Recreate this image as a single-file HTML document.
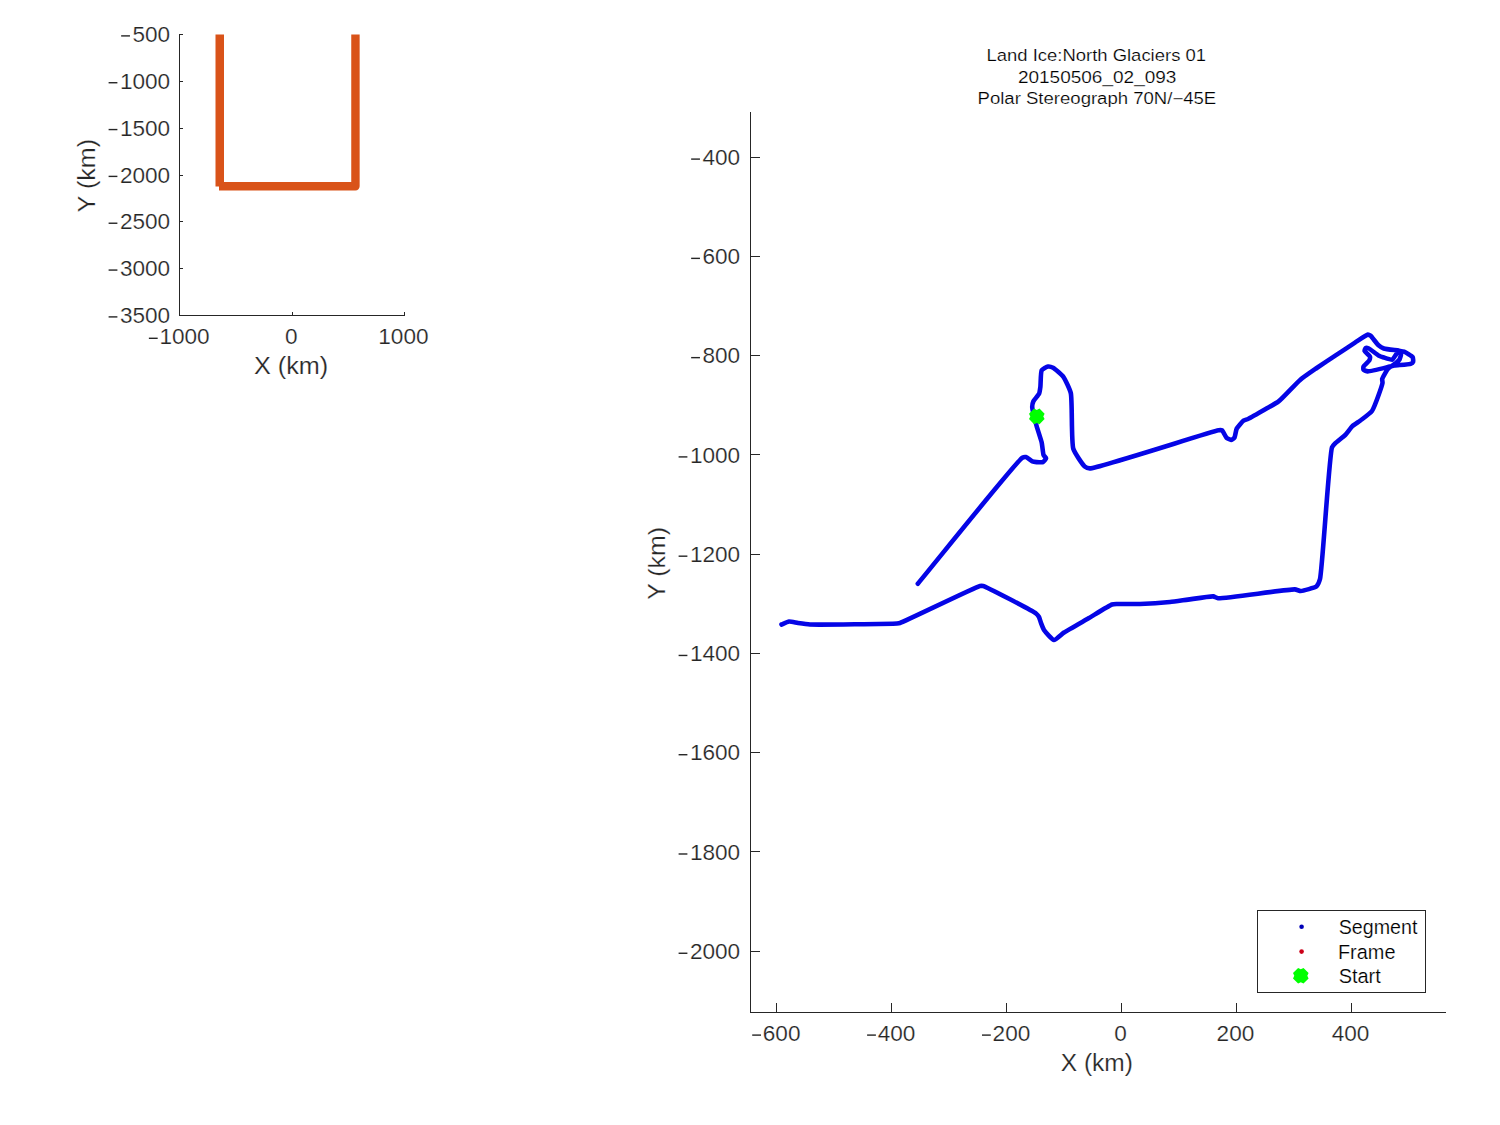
<!DOCTYPE html>
<html><head><meta charset="utf-8"><style>
html,body{margin:0;padding:0;background:#fff;width:1500px;height:1125px;overflow:hidden}
svg{position:absolute;left:0;top:0}
text{font-family:"Liberation Sans", sans-serif;stroke:#fff;stroke-width:0.2px}
</style></head><body>
<svg width="1500" height="1125" viewBox="0 0 1500 1125">
<rect x="179" y="34" width="1" height="282" fill="#262626"/>
<rect x="179" y="315" width="226" height="1" fill="#262626"/>
<rect x="180" y="34" width="3" height="1" fill="#262626"/>
<rect x="180" y="81" width="3" height="1" fill="#262626"/>
<rect x="180" y="128" width="3" height="1" fill="#262626"/>
<rect x="180" y="175" width="3" height="1" fill="#262626"/>
<rect x="180" y="221" width="3" height="1" fill="#262626"/>
<rect x="180" y="268" width="3" height="1" fill="#262626"/>
<rect x="180" y="315" width="3" height="1" fill="#262626"/>
<rect x="179" y="312" width="1" height="3" fill="#262626"/>
<rect x="292" y="312" width="1" height="3" fill="#262626"/>
<rect x="404" y="312" width="1" height="3" fill="#262626"/>
<path d="M219.75,34.5 V186.5" stroke="#D95319" stroke-width="8.5" fill="none"/>
<path d="M219,186.3 H355.45 V34.5" stroke="#D95319" stroke-width="8.4" fill="none" stroke-linejoin="round"/>
<rect x="750" y="112" width="1" height="901" fill="#262626"/>
<rect x="750" y="1012" width="696" height="1" fill="#262626"/>
<rect x="751" y="157" width="9" height="1" fill="#262626"/>
<rect x="751" y="256" width="9" height="1" fill="#262626"/>
<rect x="751" y="355" width="9" height="1" fill="#262626"/>
<rect x="751" y="454" width="9" height="1" fill="#262626"/>
<rect x="751" y="554" width="9" height="1" fill="#262626"/>
<rect x="751" y="653" width="9" height="1" fill="#262626"/>
<rect x="751" y="752" width="9" height="1" fill="#262626"/>
<rect x="751" y="851" width="9" height="1" fill="#262626"/>
<rect x="751" y="951" width="9" height="1" fill="#262626"/>
<rect x="776" y="1003" width="1" height="9" fill="#262626"/>
<rect x="891" y="1003" width="1" height="9" fill="#262626"/>
<rect x="1006" y="1003" width="1" height="9" fill="#262626"/>
<rect x="1121" y="1003" width="1" height="9" fill="#262626"/>
<rect x="1236" y="1003" width="1" height="9" fill="#262626"/>
<rect x="1351" y="1003" width="1" height="9" fill="#262626"/>
<path d="M917.80,583.70 C935.22,562.72 1016.55,461.21 1022.30,457.80 C1023.16,457.29 1025.24,456.97 1025.90,457.10 C1026.85,457.29 1031.30,460.90 1032.30,461.30 C1033.06,461.60 1035.81,462.03 1036.60,462.10 C1037.55,462.19 1042.09,462.48 1042.90,462.10 C1043.62,461.76 1046.09,458.91 1046.10,458.30 C1046.11,457.75 1043.93,455.87 1043.60,455.10 C1043.01,453.74 1042.21,444.72 1041.70,442.50 C1041.11,439.91 1037.37,428.86 1036.60,426.00 C1035.78,422.96 1032.22,409.24 1032.20,407.00 C1032.19,405.77 1032.96,402.27 1033.40,401.30 C1033.96,400.06 1038.53,395.01 1039.10,393.70 C1039.60,392.57 1040.21,388.12 1040.40,386.70 C1040.68,384.55 1040.67,371.96 1041.70,370.30 C1042.39,369.19 1046.97,366.66 1048.00,366.50 C1048.87,366.36 1052.17,367.22 1053.10,367.70 C1054.59,368.47 1061.79,374.71 1063.20,376.60 C1064.84,378.80 1069.91,389.42 1070.80,393.10 C1072.36,399.54 1071.23,442.29 1073.30,448.80 C1074.57,452.80 1082.95,465.09 1084.70,466.50 C1085.59,467.22 1088.37,468.35 1089.80,468.40 C1096.91,468.64 1212.41,431.18 1218.50,430.30 C1219.48,430.16 1221.46,430.00 1222.00,430.30 C1222.85,430.78 1225.62,436.89 1226.50,437.70 C1227.17,438.31 1230.31,439.94 1231.00,439.90 C1231.62,439.86 1233.96,438.32 1234.40,437.70 C1235.07,436.76 1235.98,429.99 1236.70,428.60 C1237.46,427.14 1242.38,421.48 1243.50,420.70 C1244.26,420.17 1247.02,419.46 1248.00,419.00 C1250.03,418.05 1263.37,410.38 1266.10,408.80 C1268.38,407.48 1276.36,403.14 1278.60,401.40 C1281.85,398.88 1296.67,382.81 1300.10,379.90 C1302.85,377.57 1313.17,370.46 1316.00,368.50 C1319.17,366.31 1333.08,357.11 1336.40,354.90 C1339.57,352.80 1352.18,344.41 1355.00,342.60 C1357.32,341.11 1366.44,334.72 1367.80,334.60 C1368.40,334.55 1369.99,335.32 1370.50,335.70 C1371.56,336.48 1377.21,344.19 1378.50,345.30 C1379.41,346.08 1382.64,348.09 1383.80,348.50 C1385.61,349.14 1396.84,350.28 1398.70,350.60 C1399.83,350.79 1403.14,351.32 1404.10,351.70 C1405.40,352.22 1411.95,355.96 1412.60,357.00 C1413.05,357.72 1413.35,361.21 1413.10,361.80 C1412.89,362.29 1411.18,363.62 1410.50,363.90 C1409.01,364.51 1396.38,365.19 1394.50,365.50 C1393.46,365.67 1390.79,366.36 1389.70,366.60 C1387.37,367.12 1370.03,371.56 1367.80,371.40 C1366.79,371.33 1363.83,370.27 1363.50,369.80 C1363.23,369.41 1363.27,367.18 1363.50,366.60 C1363.87,365.65 1368.93,361.19 1369.40,360.20 C1369.71,359.55 1370.11,357.12 1369.90,356.50 C1369.61,355.61 1364.79,351.94 1364.60,351.10 C1364.47,350.54 1365.33,348.11 1365.70,347.90 C1366.06,347.69 1368.26,348.23 1368.90,348.50 C1370.12,349.02 1377.09,354.63 1378.50,355.40 C1379.48,355.93 1382.80,357.17 1383.80,357.50 C1385.04,357.90 1391.34,360.04 1392.30,359.70 C1392.99,359.45 1394.54,356.63 1395.00,356.00 C1395.48,355.34 1397.45,352.09 1398.00,352.00 C1398.47,351.92 1400.81,353.49 1401.00,354.00 C1401.24,354.64 1399.94,358.73 1399.50,359.50 C1399.09,360.21 1396.73,362.38 1396.00,363.00 C1394.97,363.87 1389.22,367.47 1388.10,368.70 C1386.87,370.06 1382.51,377.54 1382.20,378.90 C1382.02,379.70 1382.64,382.03 1382.50,383.00 C1382.13,385.61 1374.32,407.76 1372.00,411.00 C1370.35,413.30 1362.18,419.14 1360.40,420.50 C1358.96,421.60 1353.61,425.06 1352.40,426.20 C1351.13,427.39 1346.92,433.26 1345.60,434.60 C1344.14,436.08 1336.71,441.78 1335.50,443.00 C1334.72,443.79 1332.55,445.94 1332.00,447.30 C1329.30,453.94 1322.25,570.75 1320.00,579.00 C1319.45,581.02 1317.68,585.26 1316.60,586.20 C1315.04,587.55 1302.81,590.97 1300.80,591.00 C1299.57,591.02 1296.38,589.52 1294.80,589.40 C1289.22,588.99 1223.09,598.83 1218.00,598.20 C1216.69,598.04 1214.34,596.53 1213.20,596.40 C1210.67,596.10 1191.85,599.10 1188.00,599.60 C1184.75,600.02 1173.39,601.66 1170.00,602.00 C1165.64,602.44 1144.67,603.84 1140.00,604.00 C1135.91,604.14 1119.44,603.88 1117.00,604.00 C1115.86,604.06 1113.08,604.15 1112.00,604.50 C1109.50,605.31 1092.92,615.71 1089.00,618.00 C1084.92,620.38 1067.18,630.39 1064.00,632.50 C1061.91,633.88 1055.62,640.12 1054.00,640.00 C1052.28,639.88 1045.10,631.62 1044.00,630.00 C1043.19,628.81 1041.43,624.13 1041.00,623.00 C1040.61,621.97 1039.47,617.83 1039.00,617.00 C1038.60,616.29 1036.92,614.23 1036.00,613.50 C1032.67,610.86 986.44,586.84 983.00,586.00 C982.23,585.81 980.81,585.82 980.00,586.00 C975.64,586.96 904.36,621.66 900.00,623.00 C899.19,623.25 897.85,623.42 897.00,623.50 C892.46,623.90 817.85,624.94 810.00,624.50 C807.08,624.33 799.85,623.27 798.00,623.00 C796.39,622.77 790.41,621.35 789.00,621.50 C787.67,621.64 782.75,624.00 781.50,624.50" fill="none" stroke="#0505E6" stroke-width="4.6" stroke-linejoin="round" stroke-linecap="round"/>
<path d="M1034.10,408.60 L1036.80,409.90 L1039.50,408.60 L1044.60,413.70 L1043.30,416.40 L1044.60,419.10 L1039.50,424.20 L1036.80,422.90 L1034.10,424.20 L1029.00,419.10 L1030.30,416.40 L1029.00,413.70Z" fill="#00FF00"/>
<rect x="1257.5" y="910.5" width="168" height="82" fill="#fff" stroke="#262626" stroke-width="1"/>
<circle cx="1301.6" cy="926.7" r="2.3" fill="#0000B8"/>
<circle cx="1301.6" cy="951.6" r="2.3" fill="#CC0018"/>
<path d="M1298.10,968.00 L1300.80,969.30 L1303.50,968.00 L1308.60,973.10 L1307.30,975.80 L1308.60,978.50 L1303.50,983.60 L1300.80,982.30 L1298.10,983.60 L1293.00,978.50 L1294.30,975.80 L1293.00,973.10Z" fill="#00FF00"/>
<text transform="translate(132.40,42.00) scale(1.0499,1)" style="font-size:21.5px;fill:#262626">500</text>
<text transform="translate(119.94,88.83) scale(1.0499,1)" style="font-size:21.5px;fill:#262626">1000</text>
<text transform="translate(119.94,135.67) scale(1.0499,1)" style="font-size:21.5px;fill:#262626">1500</text>
<text transform="translate(119.94,182.50) scale(1.0499,1)" style="font-size:21.5px;fill:#262626">2000</text>
<text transform="translate(119.94,229.33) scale(1.0499,1)" style="font-size:21.5px;fill:#262626">2500</text>
<text transform="translate(119.94,276.17) scale(1.0499,1)" style="font-size:21.5px;fill:#262626">3000</text>
<text transform="translate(119.94,323.00) scale(1.0499,1)" style="font-size:21.5px;fill:#262626">3500</text>
<text transform="translate(159.47,344.00) scale(1.0499,1)" style="font-size:21.5px;fill:#262626">1000</text>
<text transform="translate(285.07,344.00) scale(1.0499,1)" style="font-size:21.5px;fill:#262626">0</text>
<text transform="translate(378.30,344.00) scale(1.0499,1)" style="font-size:21.5px;fill:#262626">1000</text>
<text transform="translate(254.03,373.70) scale(1.0511,1)" style="font-size:24px;fill:#262626">X (km)</text>
<text transform="translate(94.80,212.44) rotate(-90) scale(1.0490,1)" style="font-size:24px;fill:#262626">Y (km)</text>
<text transform="translate(702.40,164.80) scale(1.0499,1)" style="font-size:21.5px;fill:#262626">400</text>
<text transform="translate(702.40,264.07) scale(1.0499,1)" style="font-size:21.5px;fill:#262626">600</text>
<text transform="translate(702.40,363.34) scale(1.0499,1)" style="font-size:21.5px;fill:#262626">800</text>
<text transform="translate(689.94,462.61) scale(1.0499,1)" style="font-size:21.5px;fill:#262626">1000</text>
<text transform="translate(689.94,561.88) scale(1.0499,1)" style="font-size:21.5px;fill:#262626">1200</text>
<text transform="translate(689.94,661.15) scale(1.0499,1)" style="font-size:21.5px;fill:#262626">1400</text>
<text transform="translate(689.94,760.42) scale(1.0499,1)" style="font-size:21.5px;fill:#262626">1600</text>
<text transform="translate(689.94,859.69) scale(1.0499,1)" style="font-size:21.5px;fill:#262626">1800</text>
<text transform="translate(689.94,958.96) scale(1.0499,1)" style="font-size:21.5px;fill:#262626">2000</text>
<text transform="translate(762.80,1040.80) scale(1.0499,1)" style="font-size:21.5px;fill:#262626">600</text>
<text transform="translate(877.70,1040.80) scale(1.0499,1)" style="font-size:21.5px;fill:#262626">400</text>
<text transform="translate(992.60,1040.80) scale(1.0499,1)" style="font-size:21.5px;fill:#262626">200</text>
<text transform="translate(1114.37,1040.80) scale(1.0499,1)" style="font-size:21.5px;fill:#262626">0</text>
<text transform="translate(1216.62,1040.80) scale(1.0499,1)" style="font-size:21.5px;fill:#262626">200</text>
<text transform="translate(1331.72,1040.80) scale(1.0499,1)" style="font-size:21.5px;fill:#262626">400</text>
<text transform="translate(1060.75,1070.80) scale(1.0219,1)" style="font-size:24px;fill:#262626">X (km)</text>
<text transform="translate(664.70,599.73) rotate(-90) scale(1.0358,1)" style="font-size:24px;fill:#262626">Y (km)</text>
<text transform="translate(986.46,60.80) scale(1.1547,1)" style="font-size:16px;fill:#000">Land Ice:North Glaciers 01</text>
<text transform="translate(1017.89,82.80) scale(1.1883,1)" style="font-size:16px;fill:#000">20150506_02_093</text>
<text transform="translate(977.56,104.40) scale(1.1598,1)" style="font-size:16px;fill:#000">Polar Stereograph 70N/−45E</text>
<text transform="translate(1338.65,934.00) scale(1.0090,1)" style="font-size:19.5px;fill:#000">Segment</text>
<text transform="translate(1337.94,958.90) scale(1.0222,1)" style="font-size:19.5px;fill:#000">Frame</text>
<text transform="translate(1338.64,983.10) scale(1.0247,1)" style="font-size:19.5px;fill:#000">Start</text>
<rect x="121.15" y="35.20" width="8.8" height="1.4" fill="#262626"/>
<rect x="108.60" y="82.03" width="8.8" height="1.4" fill="#262626"/>
<rect x="108.60" y="128.87" width="8.8" height="1.4" fill="#262626"/>
<rect x="108.60" y="175.70" width="8.8" height="1.4" fill="#262626"/>
<rect x="108.60" y="222.53" width="8.8" height="1.4" fill="#262626"/>
<rect x="108.60" y="269.37" width="8.8" height="1.4" fill="#262626"/>
<rect x="108.60" y="316.20" width="8.8" height="1.4" fill="#262626"/>
<rect x="691.15" y="158.40" width="8.8" height="1.4" fill="#262626"/>
<rect x="691.15" y="257.67" width="8.8" height="1.4" fill="#262626"/>
<rect x="691.15" y="356.94" width="8.8" height="1.4" fill="#262626"/>
<rect x="678.60" y="456.21" width="8.8" height="1.4" fill="#262626"/>
<rect x="678.60" y="555.48" width="8.8" height="1.4" fill="#262626"/>
<rect x="678.60" y="654.75" width="8.8" height="1.4" fill="#262626"/>
<rect x="678.60" y="754.02" width="8.8" height="1.4" fill="#262626"/>
<rect x="678.60" y="853.29" width="8.8" height="1.4" fill="#262626"/>
<rect x="678.60" y="952.56" width="8.8" height="1.4" fill="#262626"/>
<rect x="148.87" y="337.60" width="8.8" height="1.4" fill="#262626"/>
<rect x="752.20" y="1034.40" width="8.8" height="1.4" fill="#262626"/>
<rect x="867.10" y="1034.40" width="8.8" height="1.4" fill="#262626"/>
<rect x="982.00" y="1034.40" width="8.8" height="1.4" fill="#262626"/>
</svg>
</body></html>
